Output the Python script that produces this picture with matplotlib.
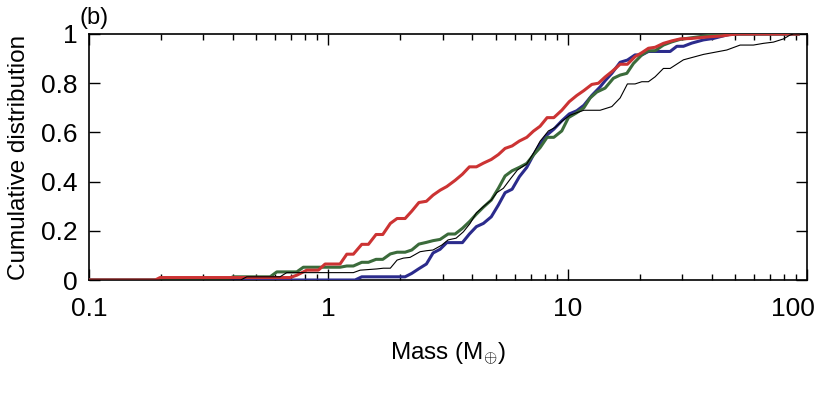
import matplotlib
matplotlib.use('Agg')
import matplotlib.pyplot as plt
import matplotlib.transforms as mtransforms
from matplotlib.ticker import LogLocator, NullFormatter, FixedLocator

plt.rcParams['font.family'] = ['Liberation Sans', 'DejaVu Sans']
plt.rcParams['mathtext.fontset'] = 'custom'
plt.rcParams['mathtext.rm'] = 'Liberation Sans'
plt.rcParams['mathtext.it'] = 'Liberation Sans'

# cumulative distributions (mass in Earth masses)
red_mass = [0.1, 0.189, 0.198, 0.692, 0.740, 0.812, 0.908, 0.969, 1.119, 1.194,
            1.272, 1.379, 1.470, 1.582, 1.688, 1.815, 1.937, 2.092, 2.231, 2.389,
            2.568, 2.738, 2.930, 3.125, 3.384, 3.631, 3.884, 4.155, 4.443, 4.794,
            5.134, 5.476, 5.857, 6.283, 6.746, 7.189, 7.666, 8.203, 8.749, 9.447,
            10.15, 10.91, 11.68, 12.61, 13.44, 14.33, 15.29, 16.56, 17.76, 19.12,
            20.40, 21.74, 23.19, 25.11, 27.23, 29.49, 33.0, 39.37, 44.06, 48.51,
            52.54, 91.8]
red_frac = [0, 0, 0.01, 0.01, 0.02, 0.04, 0.04, 0.065, 0.065, 0.105,
            0.105, 0.145, 0.145, 0.185, 0.185, 0.23, 0.25, 0.25, 0.28, 0.315,
            0.32, 0.345, 0.365, 0.38, 0.405, 0.43, 0.46, 0.46, 0.475, 0.49,
            0.51, 0.535, 0.545, 0.565, 0.58, 0.605, 0.625, 0.66, 0.66, 0.69,
            0.725, 0.75, 0.77, 0.795, 0.80, 0.825, 0.847, 0.877, 0.877, 0.908,
            0.924, 0.942, 0.946, 0.962, 0.972, 0.98, 0.982, 0.989, 0.992, 0.998,
            1.0, 1.0]

blue_mass = [0.1, 1.293, 1.379, 2.092, 2.231, 2.389, 2.568, 2.738, 2.930, 3.125,
             3.631, 3.884, 4.155, 4.443, 4.794, 5.134, 5.476, 5.857, 6.283, 6.746,
             7.189, 7.666, 8.203, 8.749, 9.447, 10.15, 10.91, 11.68, 12.61, 13.66,
             14.33, 15.29, 16.56, 17.76, 19.12, 20.40, 21.74, 26.79, 28.57, 30.45,
             33.0, 36.91, 40.64, 46.23, 48.51, 91.8]
blue_frac = [0, 0, 0.013, 0.013, 0.027, 0.046, 0.065, 0.11, 0.125, 0.152,
             0.152, 0.187, 0.217, 0.23, 0.257, 0.305, 0.355, 0.369, 0.42, 0.458,
             0.508, 0.552, 0.59, 0.613, 0.647, 0.675, 0.688, 0.71, 0.75, 0.785,
             0.81, 0.84, 0.885, 0.894, 0.915, 0.915, 0.929, 0.929, 0.95, 0.95,
             0.963, 0.976, 0.982, 0.996, 1.0, 1.0]

green_mass = [0.1, 0.37, 0.40, 0.571, 0.609, 0.738, 0.786, 1.119, 1.194, 1.272,
              1.379, 1.470, 1.582, 1.688, 1.815, 1.937, 2.092, 2.231, 2.389, 2.568,
              2.738, 2.930, 3.164, 3.384, 3.631, 3.884, 4.155, 4.443, 4.794, 5.134,
              5.476, 5.857, 6.283, 6.746, 7.189, 7.666, 8.203, 8.749, 9.447, 10.07,
              10.91, 11.68, 12.41, 13.23, 14.33, 15.52, 16.56, 17.66, 18.82, 20.40,
              21.74, 23.19, 25.11, 27.23, 29.49, 31.46, 39.37, 49.25, 91.8]
green_frac = [0, 0, 0.013, 0.013, 0.033, 0.033, 0.052, 0.052, 0.057, 0.057,
              0.072, 0.072, 0.084, 0.084, 0.106, 0.113, 0.113, 0.122, 0.146, 0.153,
              0.16, 0.165, 0.187, 0.187, 0.21, 0.237, 0.268, 0.296, 0.325, 0.373,
              0.423, 0.444, 0.458, 0.474, 0.508, 0.538, 0.58, 0.58, 0.606, 0.66,
              0.68, 0.70, 0.74, 0.764, 0.78, 0.82, 0.833, 0.84, 0.88, 0.915,
              0.932, 0.932, 0.955, 0.968, 0.978, 0.982, 0.995, 1.0, 1.0]

black_mass = [0.1, 0.43, 0.456, 0.628, 0.670, 1.272, 1.357, 1.593, 1.698, 1.815,
              1.937, 2.058, 2.194, 2.416, 2.568, 2.738, 2.978, 3.164, 3.417, 3.666,
              3.910, 4.155, 4.443, 4.794, 5.055, 5.387, 5.784, 6.163, 6.746, 7.189,
              7.666, 8.307, 8.859, 9.447, 10.23, 10.91, 11.68, 13.66, 15.29, 16.56,
              17.76, 19.12, 20.40, 21.74, 23.19, 25.11, 26.79, 30.45, 36.91, 46.23,
              52.54, 59.70, 65.74, 72.38, 79.69, 85.0, 87.75, 95.0]
black_frac = [0, 0, 0.013, 0.013, 0.03, 0.03, 0.04, 0.045, 0.048, 0.048,
              0.081, 0.089, 0.092, 0.115, 0.119, 0.122, 0.142, 0.163, 0.17, 0.196,
              0.23, 0.273, 0.298, 0.325, 0.355, 0.373, 0.413, 0.447, 0.472, 0.515,
              0.564, 0.606, 0.62, 0.645, 0.67, 0.68, 0.69, 0.69, 0.705, 0.74,
              0.797, 0.797, 0.806, 0.806, 0.826, 0.86, 0.86, 0.895, 0.917, 0.935,
              0.955, 0.955, 0.962, 0.967, 0.98, 0.996, 1.0, 1.0]

x_ticks = [0.1, 1, 10, 100]
x_tick_labels = ['0.1', '1', '10', '100']
y_ticks = [0, 0.2, 0.4, 0.6, 0.8, 1]
y_tick_labels = ['0', '0.2', '0.4', '0.6', '0.8', '1']

fig = plt.figure(figsize=(8.22, 3.93), dpi=100)
ax = fig.add_axes([0.1083, 0.2875, 0.8735, 0.626])

ax.plot(blue_mass, blue_frac, color='#2b2b8c', lw=2.2, zorder=3)
ax.plot(green_mass, green_frac, color='#3b6b3b', lw=2.2, zorder=4)
ax.plot(red_mass, red_frac, color='#cc3333', lw=2.2, zorder=5)
ax.plot(black_mass, black_frac, color='black', lw=0.8, zorder=6)

ax.set_xscale('log')
ax.set_xlim(0.1, 100)
ax.set_ylim(0, 1)
ax.xaxis.set_major_locator(FixedLocator(x_ticks))
ax.set_xticklabels(x_tick_labels)
ax.xaxis.set_minor_locator(LogLocator(base=10, subs=range(2, 10)))
ax.xaxis.set_minor_formatter(NullFormatter())
ax.set_yticks(y_ticks)
ax.set_yticklabels(y_tick_labels)

ax.tick_params(which='both', direction='in', top=True, right=True,
               labelsize=19, width=1.0, color='black')
ax.tick_params(which='major', length=8)
ax.tick_params(which='minor', length=4.5)
ax.tick_params(axis='x', pad=12)
ax.tick_params(axis='y', pad=8)
for s in ax.spines.values():
    s.set_linewidth(1.2)

# the last x label sits a little left, as in the original
last = ax.get_xticklabels()[-1]
last.set_transform(last.get_transform() +
                   mtransforms.ScaledTranslation(-10 / 72, 0, fig.dpi_scale_trans))

ax.set_xlabel(r'Mass (M$_{\oplus}$)', fontsize=17.5, labelpad=14)
ax.set_ylabel('Cumulative distribution', fontsize=17.5, labelpad=8)
fig.text(0.097, 0.955, '(b)', fontsize=17, ha='left', va='center')

fig.savefig('out.png', dpi=100)
